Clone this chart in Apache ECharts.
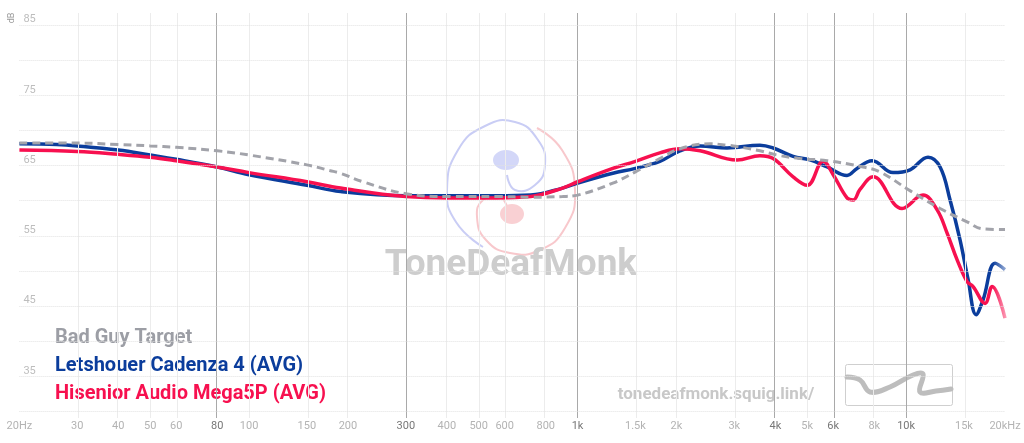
<!DOCTYPE html>
<html>
<head>
<meta charset="utf-8">
<title>Frequency response</title>
<script src="https://cdn.jsdelivr.net/npm/echarts@6.0.0/dist/echarts.min.js"></script>
<style>
  html, body { margin: 0; padding: 0; background: #fff; }
  #chart { width: 1024px; height: 443px; }
</style>
</head>
<body>
<div id="chart"></div>
<script>
// x ticks (Hz) and their labels
const tickFreqs = [20, 30, 40, 50, 60, 80, 100, 150, 200, 300, 400, 500, 600, 800, 1000, 1500, 2000, 3000, 4000, 5000, 6000, 8000, 10000, 15000, 20000];
const tickLabels = ['20Hz', '30', '40', '50', '60', '80', '100', '150', '200', '300', '400', '500', '600', '800', '1k', '1.5k', '2k', '3k', '4k', '5k', '6k', '8k', '10k', '15k', '20kHz'];
const majorFreqs = [80, 300, 1000, 4000, 6000, 10000];
const dbLines = [30, 35, 40, 45, 50, 55, 60, 65, 70, 75, 80, 85];
const dbLabels = [35, 45, 55, 65, 75, 85];

// Bad Guy Target
const targetFreq = [20, 30, 40, 50, 60, 80, 100, 150, 176, 190, 222, 300, 410, 570, 720, 900, 1000, 1280, 1500, 1780, 2050, 2530, 2850, 3060, 3590, 4050, 4760, 5750, 7400, 8330, 10300, 12690, 15330, 17150, 20000];
const targetDb = [68.2, 68.2, 68.0, 67.8, 67.6, 67.1, 66.5, 65.1, 64.3, 63.9, 62.7, 61.0, 60.6, 60.6, 60.5, 60.6, 60.8, 62.5, 64.1, 66.0, 67.4, 68.1, 67.9, 67.7, 67.1, 66.5, 66.0, 65.7, 64.8, 64.1, 61.4, 58.9, 57.0, 56.0, 55.9];

// Letshouer Cadenza 4 (AVG)
const cadenzaFreq = [20, 26, 30, 40, 50, 60, 80, 100, 150, 190, 300, 570, 720, 900, 1000, 1280, 1500, 1780, 2050, 2360, 2850, 3590, 3940, 4530, 5100, 5750, 6610, 7090, 7880, 9120, 10280, 11660, 12690, 13610, 14600, 15440, 16330, 17150, 18660, 20000];
const cadenzaDb = [68.1, 68.0, 67.8, 67.2, 66.5, 65.9, 64.8, 63.7, 62.2, 61.3, 60.7, 60.7, 60.8, 61.8, 62.5, 63.9, 64.6, 65.6, 67.1, 67.8, 67.5, 67.9, 67.5, 66.3, 65.8, 64.8, 63.6, 64.6, 65.7, 64.0, 64.4, 66.2, 64.8, 60.1, 54.4, 48.8, 43.8, 45.9, 51.1, 50.2];

// Hisenior Audio Mega5P (AVG)
const megaFreq = [20, 30, 40, 50, 60, 80, 100, 150, 190, 300, 410, 570, 720, 900, 1000, 1280, 1500, 1780, 2050, 2360, 3060, 3590, 3940, 4530, 5000, 5590, 6000, 6610, 6900, 7240, 7930, 9720, 11260, 12430, 13330, 14300, 15330, 15990, 17390, 18270, 20000];
const megaDb = [67.2, 67.0, 66.6, 66.2, 65.7, 64.8, 64.0, 62.7, 61.8, 60.6, 60.4, 60.4, 60.6, 61.8, 62.7, 64.6, 65.6, 66.8, 67.4, 67.1, 65.8, 66.4, 66.0, 63.4, 62.2, 65.6, 63.7, 60.4, 60.1, 61.6, 63.4, 58.9, 60.8, 58.7, 55.4, 51.6, 48.5, 47.8, 45.4, 47.8, 43.3];

const GRAY = '#a2a3aa';
const BLUE = '#0b3d9c';
const RED = '#f7104f';

const toPoints = (freqs, dbs) => freqs.map((f, i) => [Math.log10(f), dbs[i]]);

function fadeEnd(color, rgba) {
  return new echarts.graphic.LinearGradient(0, 0, 1, 0, [
    { offset: 0, color: color },
    { offset: 0.985, color: color },
    { offset: 1, color: rgba }
  ]);
}

const chart = echarts.init(document.getElementById('chart'), null, { renderer: 'canvas' });

const vLines = tickFreqs.slice(1, -1).map(f => ({
  xAxis: Math.log10(f),
  lineStyle: majorFreqs.includes(f)
    ? { color: '#a9a9a9', width: 1, type: 'solid' }
    : { color: '#ececec', width: 1, type: 'solid' }
}));
const hLines = dbLines.map(v => ({
  yAxis: v,
  lineStyle: { color: '#e2e2e2', width: 1, type: 'dotted' }
}));

chart.setOption({
  backgroundColor: '#fff',
  animation: false,
  textStyle: { fontFamily: 'Roboto, sans-serif' },
  grid: { left: 19.4, right: 19, top: 13, bottom: 25 },
  xAxis: {
    type: 'value',
    min: Math.log10(20),
    max: Math.log10(20000),
    axisLine: { show: false },
    axisTick: { show: false },
    splitLine: { show: false },
    axisLabel: {
      customValues: tickFreqs.map(f => Math.log10(f)),
      showMinLabel: true,
      showMaxLabel: true,
      margin: 3,
      fontSize: 11,
      color: '#b3b3b3',
      formatter: (v) => {
        const i = tickFreqs.findIndex(f => Math.abs(Math.log10(f) - v) < 1e-6);
        if (i < 0) return '';
        return majorFreqs.includes(tickFreqs[i]) ? '{d|' + tickLabels[i] + '}' : tickLabels[i];
      },
      rich: { d: { color: '#777', fontSize: 11 } }
    }
  },
  yAxis: {
    type: 'value',
    min: 29.1,
    max: 86.7,
    axisLine: { show: false },
    axisTick: { show: false },
    splitLine: { show: false },
    axisLabel: {
      customValues: dbLabels,
      inside: true,
      margin: 4,
      verticalAlign: 'bottom',
      fontSize: 11,
      color: '#bdbdbd'
    }
  },
  legend: {
    orient: 'vertical',
    left: 45,
    top: 322,
    icon: 'none',
    itemWidth: 0,
    itemHeight: 0,
    itemGap: 6,
    selectedMode: false,
    textStyle: { fontSize: 20, fontWeight: 'bold', fontFamily: 'Roboto', lineHeight: 22 },
    data: [
      { name: 'Bad Guy Target', textStyle: { color: '#9c9ea5' } },
      { name: 'Letshouer Cadenza 4 (AVG)', textStyle: { color: BLUE } },
      { name: 'Hisenior Audio Mega5P (AVG)', textStyle: { color: RED } }
    ]
  },
  graphic: [
    { type: 'text', x: 12, y: 18, rotation: Math.PI / 2, z: 1,
      style: { text: 'dB', fill: '#999', font: '9px Roboto', align: 'center', verticalAlign: 'middle' } },
    // logo
    { type: 'polyline', z: 1, silent: true,
      shape: { points: [[483, 247], [456, 222], [447, 190], [458, 150], [485, 126], [515, 122], [538, 140], [545, 165], [535, 185], [515, 190], [507, 175]], smooth: 0.5 },
      style: { stroke: '#c9cdf5', lineWidth: 2, fill: null } },
    { type: 'polyline', z: 1, silent: true,
      shape: { points: [[537, 128], [562, 150], [575, 190], [565, 228], [540, 250], [510, 253], [486, 240], [477, 217], [483, 200], [500, 197], [508, 210]], smooth: 0.5 },
      style: { stroke: '#f8c8cc', lineWidth: 2, fill: null } },
    { type: 'ellipse', z: 1, silent: true, shape: { cx: 506, cy: 160, rx: 13, ry: 10 }, style: { fill: '#d3d7f8' } },
    { type: 'ellipse', z: 1, silent: true, shape: { cx: 512, cy: 214, rx: 12, ry: 10 }, style: { fill: '#f9d0d3' } },
    { type: 'text', x: 511, y: 266, z: 1, silent: true,
      style: { text: 'ToneDeafMonk', fill: '#cdcdcd', font: 'bold 37px Roboto', align: 'center', verticalAlign: 'middle' } },
    { type: 'text', x: 716, y: 395, z: 1, silent: true,
      style: { text: 'tonedeafmonk.squig.link/', fill: '#c8c8c8', font: 'bold 17px Roboto', align: 'center', verticalAlign: 'middle' } },
    { type: 'rect', z: 1, silent: true, shape: { x: 845.5, y: 364.5, width: 107, height: 41, r: 2 },
      style: { stroke: '#cfcfcf', lineWidth: 1, fill: null } },
    { type: 'polyline', z: 1, silent: true,
      shape: { points: [[847, 377], [860, 380], [870, 392], [890, 387], [913, 375], [923, 374], [920, 392], [936, 391], [951, 389]], smooth: 0.4 },
      style: { stroke: '#bdbdbd', lineWidth: 5, fill: null, lineCap: 'round' } }
  ],
  series: [
    {
      name: 'grid',
      type: 'line',
      data: [],
      z: 0,
      silent: true,
      markLine: {
        silent: true,
        symbol: ['none', 'none'],
        label: { show: false },
        animation: false,
        data: vLines.concat(hLines)
      }
    },
    {
      name: 'Letshouer Cadenza 4 (AVG)',
      type: 'line',
      z: 3,
      smooth: 0.4,
      showSymbol: false,
      color: BLUE,
      lineStyle: { width: 3.5, color: fadeEnd(BLUE, 'rgba(11,61,156,0.35)') },
      data: toPoints(cadenzaFreq, cadenzaDb)
    },
    {
      name: 'Hisenior Audio Mega5P (AVG)',
      type: 'line',
      z: 4,
      smooth: 0.4,
      showSymbol: false,
      color: RED,
      lineStyle: { width: 3.5, color: fadeEnd(RED, 'rgba(247,16,79,0.35)') },
      data: toPoints(megaFreq, megaDb)
    },
    {
      name: 'Bad Guy Target',
      type: 'line',
      z: 5,
      smooth: 0.4,
      showSymbol: false,
      color: GRAY,
      lineStyle: { width: 3, type: [8, 5], color: GRAY },
      data: toPoints(targetFreq, targetDb)
    }
  ]
});
</script>
</body>
</html>
